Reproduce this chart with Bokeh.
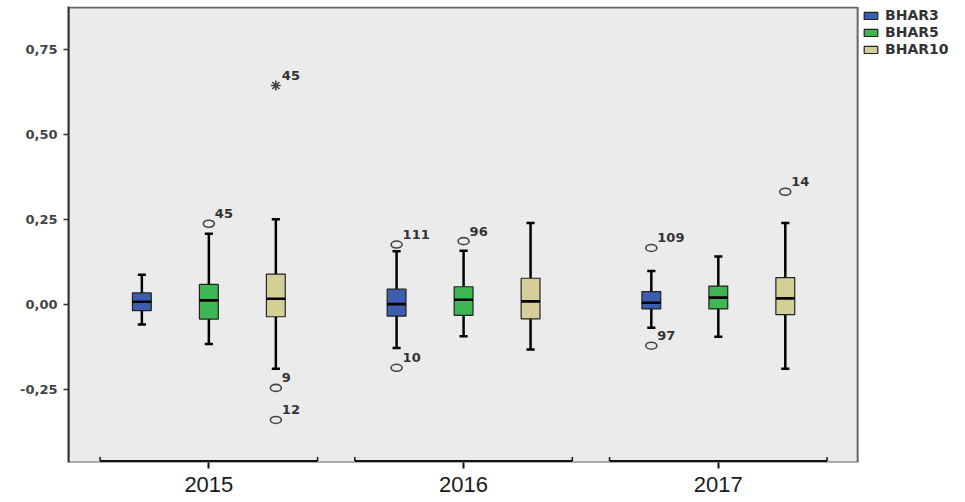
from bokeh.plotting import figure
from bokeh.models import Range1d, FixedTicker, ColumnDataSource, Legend, LegendItem
from bokeh.core.properties import value
from bokeh.embed import file_html
from bokeh.resources import INLINE

# ---- data ----
years = ["2015", "2016", "2017"]
series = ["BHAR3", "BHAR5", "BHAR10"]
colors = ["#3D5EAF", "#3DB653", "#D5CF97"]

# per series: values for 2015, 2016, 2017
whisker_lo = {
    "BHAR3": [-0.058, -0.127, -0.067],
    "BHAR5": [-0.115, -0.092, -0.094],
    "BHAR10": [-0.188, -0.131, -0.188],
}
q1 = {
    "BHAR3": [-0.017, -0.033, -0.012],
    "BHAR5": [-0.042, -0.031, -0.012],
    "BHAR10": [-0.035, -0.041, -0.029],
}
median = {
    "BHAR3": [0.009, 0.002, 0.006],
    "BHAR5": [0.013, 0.015, 0.021],
    "BHAR10": [0.018, 0.010, 0.019],
}
q3 = {
    "BHAR3": [0.035, 0.046, 0.039],
    "BHAR5": [0.060, 0.053, 0.055],
    "BHAR10": [0.090, 0.078, 0.080],
}
whisker_hi = {
    "BHAR3": [0.088, 0.157, 0.099],
    "BHAR5": [0.209, 0.159, 0.142],
    "BHAR10": [0.251, 0.240, 0.240],
}

# outliers: year, series, value, case label
out_year = ["2015", "2015", "2015", "2016", "2016", "2016", "2017", "2017", "2017"]
out_series = ["BHAR5", "BHAR10", "BHAR10", "BHAR3", "BHAR3", "BHAR5", "BHAR3", "BHAR3", "BHAR10"]
out_value = [0.238, -0.244, -0.338, 0.177, -0.185, 0.187, 0.167, -0.120, 0.332]
out_label = ["45", "9", "12", "111", "10", "96", "109", "97", "14"]

# extreme values (star)
ext_year = ["2015"]
ext_series = ["BHAR10"]
ext_value = [0.644]
ext_label = ["45"]

y_ticks = [-0.25, 0.0, 0.25, 0.50, 0.75]
y_tick_labels = ["-0,25", "0,00", "0,25", "0,50", "0,75"]

# ---- layout helpers ----
offsets = {"BHAR3": -0.263, "BHAR5": 0.0, "BHAR10": 0.263}
box_w = 0.074
cap_half = 0.016
px_per_unit = 340.5
x_lo, x_area_hi, x_hi = -0.551, 2.547, 2.939
y_lo, y_area_hi = -0.463, 0.873
y_hi = y_area_hi + 1.0 / px_per_unit

def xpos(yr, s):
    return years.index(yr) + offsets[s]

p = figure(width=957, height=500,
           x_range=Range1d(x_lo, x_hi), y_range=Range1d(y_lo, y_hi),
           output_backend="svg", toolbar_location=None,
           min_border_left=68, min_border_right=0, min_border_top=6, min_border_bottom=38,
           background_fill_color="white", border_fill_color="white")
p.xgrid.visible = False
p.ygrid.visible = False
p.outline_line_color = None

# grey plotting area with its frame
p.quad(left=[x_lo], right=[x_area_hi], bottom=[y_lo], top=[y_area_hi],
       fill_color="#EBEBEB", line_color="#666666", line_width=2)

legend_items = []
for s, c in zip(series, colors):
    xs = [xpos(yr, s) for yr in years]
    src = ColumnDataSource(dict(
        x=xs, lo=whisker_lo[s], q1=q1[s], med=median[s], q3=q3[s], hi=whisker_hi[s],
        xl=[x - box_w / 2 for x in xs], xr=[x + box_w / 2 for x in xs],
        cl=[x - cap_half for x in xs], cr=[x + cap_half for x in xs],
    ))
    p.segment(x0="x", y0="q3", x1="x", y1="hi", source=src, line_color="black", line_width=2.5)
    p.segment(x0="x", y0="lo", x1="x", y1="q1", source=src, line_color="black", line_width=2.5)
    p.segment(x0="cl", y0="hi", x1="cr", y1="hi", source=src, line_color="black", line_width=2.5)
    p.segment(x0="cl", y0="lo", x1="cr", y1="lo", source=src, line_color="black", line_width=2.5)
    r = p.vbar(x="x", width=box_w, bottom="q1", top="q3", source=src,
               fill_color=c, line_color="#222222", line_width=1.2)
    p.segment(x0="xl", y0="med", x1="xr", y1="med", source=src, line_color="black", line_width=2.6)
    legend_items.append(LegendItem(label=s, renderers=[r]))

# outliers
osrc = ColumnDataSource(dict(
    x=[xpos(yr, s) for yr, s in zip(out_year, out_series)], y=out_value, label=out_label))
p.ellipse(x="x", y="y", width=11, height=7, width_units="screen", height_units="screen",
          source=osrc, fill_color=None, line_color="#444444", line_width=1.6)
p.text(x="x", y="y", text="label", source=osrc, x_offset=6, y_offset=-10,
       text_font=value("DejaVu Sans"), text_font_style="bold", text_font_size="13px",
       text_align="left", text_baseline="middle", text_color="#333333")

esrc = ColumnDataSource(dict(
    x=[xpos(yr, s) for yr, s in zip(ext_year, ext_series)], y=ext_value, label=ext_label))
p.scatter(x="x", y="y", source=esrc, marker="asterisk", size=10,
          line_color="#444444", line_width=1.6)
p.text(x="x", y="y", text="label", source=esrc, x_offset=6, y_offset=-10,
       text_font=value("DejaVu Sans"), text_font_style="bold", text_font_size="13px",
       text_align="left", text_baseline="middle", text_color="#333333")

# group brackets along the bottom
b_half = 0.427
by = y_lo + 1.5 / px_per_unit
bsrc = ColumnDataSource(dict(
    x0=[i - b_half for i in range(len(years))], x1=[i + b_half for i in range(len(years))],
    y=[by] * len(years), ytop=[by + 4 / px_per_unit] * len(years)))
p.segment(x0="x0", y0="y", x1="x1", y1="y", source=bsrc, line_color="#111111", line_width=2)
p.segment(x0="x0", y0="y", x1="x0", y1="ytop", source=bsrc, line_color="#111111", line_width=1.5)
p.segment(x0="x1", y0="y", x1="x1", y1="ytop", source=bsrc, line_color="#111111", line_width=1.5)

# x axis
p.xaxis.ticker = FixedTicker(ticks=list(range(len(years))))
p.xaxis.major_label_overrides = {i: y for i, y in enumerate(years)}
p.xaxis.axis_line_color = None
p.xaxis.major_tick_in = 0
p.xaxis.major_tick_out = 6
p.xaxis.major_tick_line_width = 2
p.xaxis.major_tick_line_color = "#111111"
p.xaxis.minor_tick_line_color = None
p.xaxis.major_label_standoff = 8
p.xaxis.major_label_text_font = "Liberation Sans"
p.xaxis.major_label_text_font_size = "22px"
p.xaxis.major_label_text_color = "#1A1A1A"

# y axis
p.yaxis.ticker = FixedTicker(ticks=y_ticks)
p.yaxis.major_label_overrides = {t: l for t, l in zip(y_ticks, y_tick_labels)}
p.yaxis.axis_line_color = "#333333"
p.yaxis.axis_line_width = 2
p.yaxis.major_tick_in = 0
p.yaxis.major_tick_out = 5
p.yaxis.major_tick_line_width = 1.5
p.yaxis.major_tick_line_color = "#333333"
p.yaxis.minor_tick_line_color = None
p.yaxis.major_label_standoff = 6
p.yaxis.major_label_text_font = "DejaVu Sans"
p.yaxis.major_label_text_font_style = "bold"
p.yaxis.major_label_text_font_size = "13px"
p.yaxis.major_label_text_color = "#444444"

# legend placed just right of the grey area (screen offsets from the frame's bottom-left)
legend = Legend(items=legend_items, location=(794, 405), margin=0, padding=0, spacing=1,
                glyph_width=17, glyph_height=9, label_height=14, label_standoff=6,
                label_text_font="DejaVu Sans", label_text_font_style="bold",
                label_text_font_size="14px", label_text_color="#333333",
                border_line_alpha=0, background_fill_alpha=0)
p.add_layout(legend, "center")

open("out.html", "w").write(file_html(p, INLINE))
